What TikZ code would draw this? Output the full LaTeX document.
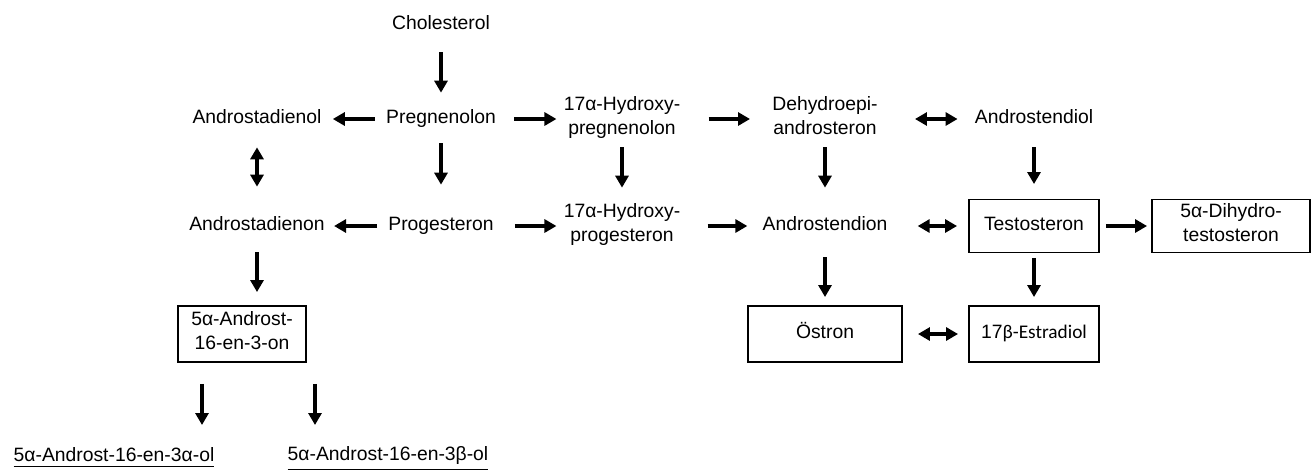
\documentclass[tikz,border=0pt]{standalone}
\usepackage{fontspec}
\setmainfont{Liberation Sans}
\newfontfamily\calibri{Carlito}
\usetikzlibrary{arrows.meta}

\newcommand\ulabel[1]{\vtop{\hbox{#1}\kern2pt\hrule height 1pt}}

\begin{document}
\begin{tikzpicture}[x=0.02cm, y=-0.02cm,
    every node/.style={font=\fontsize{11}{14}\selectfont, align=center},
    lbl/.style={inner sep=0pt, minimum height=1.12cm, execute at begin node=\strut},
    box/.style={draw, line width=1.1pt, inner sep=0pt, minimum height=1.12cm, execute at begin node=\strut},
    arr/.style={line width=2pt, -{Triangle[length=2.4mm, width=2.6mm]}},
    dbl/.style={line width=2pt, {Triangle[length=2.4mm, width=2.6mm]}-{Triangle[length=2.4mm, width=2.6mm]}},
    gaps/.style 2 args={shorten <=#1*0.2mm, shorten >=#2*0.2mm}
]
\useasboundingbox (0,0) rectangle (1314,471);

% --- top ---
\node[lbl] (chol) at (441,25) {Cholesterol};

% --- row 1 ---
\node[lbl] (adol)  at (257,119)  {Androstadienol};
\node[lbl] (preg)  at (441,119)  {Pregnenolon};
\node[lbl] (hpreg) at (622,119)  {17α-Hydroxy-\\pregnenolon};
\node[lbl] (dhea)  at (825,119)  {Dehydroepi-\\androsteron};
\node[lbl] (adiol) at (1034,119) {Androstendiol};

% --- row 2 ---
\node[lbl] (adon)  at (257,226) {Androstadienon};
\node[lbl] (prog)  at (441,226) {Progesteron};
\node[lbl] (hprog) at (622,226) {17α-Hydroxy-\\progesteron};
\node[lbl] (adion) at (825,226) {Androstendion};
\node[box, minimum width=2.6cm, minimum height=1.06cm]  (testo) at (1034,226) {Testosteron};
\node[box, minimum width=3.16cm, minimum height=1.06cm] (dht)   at (1231,226) {5α-Dihydro-\\testosteron};

% --- row 3 ---
\node[box, minimum width=2.56cm] (andro)     at (242,334)  {5α-Androst-\\16-en-3-on};
\node[box, minimum width=3.08cm] (estron)    at (825,334)  {Östron};
\node[box, minimum width=2.6cm]  (estradiol) at (1034,334) {17{\calibri β-Estradiol}};

% --- bottom ---
\node[lbl] (olA) at (114,457) {\ulabel{5α-Androst-16-en-3α-ol}};
\node[lbl] (olB) at (388,457) {\ulabel{5α-Androst-16-en-3β-ol}};
\coordinate (tipA) at (202,425);
\coordinate (tipB) at (315,425);

% vertical arrows
\draw[arr, gaps={-1}{-2}]  (chol) -- (preg);
\draw[dbl, gaps={0}{11}]   (adol) -- (adon);
\draw[arr, gaps={-4}{13}]  (preg) -- (prog);
\draw[arr, gaps={0}{10}]   (hpreg) -- (hprog);
\draw[arr, gaps={0}{10}]   (dhea) -- (adion);
\draw[arr, gaps={0}{14.5}] (adiol) -- (testo);
\draw[arr, gaps={-2}{13}]  (adon.south) -- (adon.south |- andro.north);
\draw[arr, gaps={3}{8}]    (adion) -- (estron);
\draw[arr, gaps={4.5}{8}]  (testo) -- (estradiol);
\draw[arr, gaps={21}{0}]   (andro.south -| tipA) -- (tipA);
\draw[arr, gaps={21}{0}]   (andro.south -| tipB) -- (tipB);

% horizontal arrows
\draw[arr, gaps={11}{11}] (preg) -- (adol);
\draw[arr, gaps={18}{7}]  (preg) -- (hpreg);
\draw[arr, gaps={28}{22}] (hpreg) -- (dhea);
\draw[dbl, gaps={37}{17}] (dhea) -- (adiol);
\draw[arr, gaps={11}{9}]  (prog) -- (adon);
\draw[arr, gaps={21}{7}]  (prog) -- (hprog);
\draw[arr, gaps={27}{15}] (hprog) -- (adion);
\draw[dbl, gaps={30}{11}] (adion) -- (testo);
\draw[arr, gaps={6}{4}]   (testo) -- (dht);
\draw[dbl, gaps={15}{10}] (estron) -- (estradiol);

\end{tikzpicture}
\end{document}
